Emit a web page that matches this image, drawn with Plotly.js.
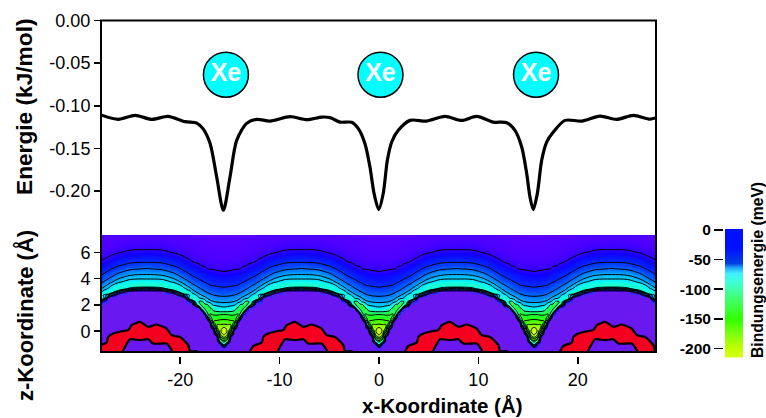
<!DOCTYPE html>
<html><head><meta charset="utf-8">
<script src="https://cdn.plot.ly/plotly-3.0.0.min.js"></script>
<style>html,body{margin:0;padding:0;background:#fff}</style></head>
<body><div id="chart" style="width:766px;height:418px"></div>
<script>
// ---- top panel: adsorption energy along x
const curveX = [-27.97,-26.23,-24.55,-22.87,-21.23,-19.52,-18.34,-17.71,-17.0,-16.33,-15.66,-14.99,-14.32,-13.31,-12.3,-10.97,-8.95,-7.27,-5.76,-4.93,-3.92,-2.75,-2.08,-1.41,-0.91,-0.5,-0.03,0.43,0.84,1.28,1.94,3.12,4.8,6.64,8.32,9.83,11.5,12.85,13.68,14.36,14.86,15.19,15.52,15.93,16.37,16.87,17.54,18.71,20.39,22.23,23.91,25.59,27.26,27.87];
const curveE = [-.1107,-.1159,-.1112,-.1159,-.1124,-.1186,-.1203,-.1268,-.1440,-.1835,-.2225,-.1835,-.1405,-.1206,-.1159,-.1179,-.1128,-.1163,-.1132,-.1139,-.1191,-.1194,-.1268,-.1444,-.1718,-.2026,-.2217,-.2026,-.1639,-.1425,-.1288,-.1171,-.1179,-.1124,-.1171,-.1124,-.1191,-.1198,-.1288,-.1484,-.1795,-.2069,-.2217,-.2029,-.1639,-.1425,-.1308,-.1171,-.1179,-.1121,-.1159,-.1112,-.1156,-.1139];
const xeX = [-15.4, 0.15, 15.8];
const xeY = [-0.0636, -0.0636, -0.0636];
const xeLabels = ['Xe','Xe','Xe'];

// ---- lower panel: binding energy (meV), one unit cell half, read column by column
const period = 15.6;
const cellOffsets = [0,0.35,0.7,1.05,1.4,1.65,1.9,2.2,2.5,3.2,4,5,6.2,7.8];
const heights = [-1.75,-1.5,-1.25,-1,-0.75,-0.5,-0.25,0,0.25,0.5,0.75,1,1.25,1.5,1.75,2,2.25,2.5,2.75,3,3.25,3.5,3.75,4,4.25,4.5,4.75,5,5.25,5.5,5.75,6,6.25,6.5,6.75,7,7.25,7.5];
const col0 = [10,10,0,-60,-120,-170,-205,-214,-203,-178,-160,-142,-127,-98,-53,-45,-38,-33,-28,-24.5,-21,-18.5,-16.4,-14.3,-12.2,-10.1,-9.4,-8.8,-8.2,-7.6,-7,-6.4,-5.8,-5.2,-4.6,-4,-3.4,-3];
const col1 = [10,10,10,0,-70,-135,-180,-198,-196,-176,-159,-141,-126,-98,-55,-45,-38.5,-33,-28.5,-25,-21.5,-18.7,-16.6,-14.5,-12.4,-10.3,-9.5,-8.9,-8.3,-7.7,-7.1,-6.5,-5.9,-5.3,-4.7,-4.1,-3.5,-2.9];
const col2 = [10,10,10,10,10,10,-30,-125,-172,-175,-155,-138,-123,-100,-60,-46,-39,-33.5,-29,-25.5,-22,-19,-16.9,-14.7,-12.6,-10.5,-9.5,-8.9,-8.3,-7.7,-7.1,-6.5,-5.9,-5.3,-4.7,-4.1,-3.5,-2.9];
const col3 = [10,10,10,10,10,10,10,10,-25,-110,-150,-140,-124,-108,-75,-47,-40.5,-34.5,-30,-26,-23,-19.4,-17.3,-15.2,-13,-10.9,-9.7,-9.1,-8.5,-7.9,-7.3,-6.7,-6.1,-5.5,-4.9,-4.3,-3.7,-3.1];
const col4 = [10,10,10,10,10,10,10,10,10,10,-20,-110,-128,-118,-110,-62,-43.6,-36.5,-31.6,-27.4,-23.8,-20.1,-17.9,-15.8,-13.6,-11.5,-9.8,-9.2,-8.6,-8,-7.4,-6.8,-6.2,-5.6,-5,-4.4,-3.8,-3.2];
const col5 = [10,10,10,10,10,10,10,10,10,10,10,-15,-85,-112,-118,-108,-46,-40,-34,-29,-25.2,-21.5,-18.7,-16.5,-14.3,-12.2,-10,-9.4,-8.8,-8.2,-7.6,-7,-6.4,-5.8,-5.2,-4.6,-4,-3.4];
const col6 = [10,10,10,10,10,10,10,10,10,10,10,10,0,-75,-112,-116,-58,-43,-36.7,-30.7,-26.7,-23,-19.6,-17.3,-15.1,-12.9,-10.7,-9.6,-9,-8.4,-7.8,-7.2,-6.6,-6,-5.4,-4.8,-4.2,-3.6];
const col7 = [10,10,10,10,10,10,10,10,10,10,10,10,10,5,-75,-115,-110,-46,-39.5,-33.7,-28.6,-25,-21,-18.2,-16,-13.8,-11.6,-9.8,-9.2,-8.6,-8,-7.4,-6.8,-6.2,-5.6,-5,-4.4,-3.8];
const col8 = [10,10,10,10,10,10,10,10,10,10,10,10,10,10,5,-75,-102,-52,-43,-36,-31,-27,-23,-19.5,-17.3,-15,-12.7,-10.4,-9.5,-8.9,-8.3,-7.7,-7.1,-6.5,-5.9,-5.3,-4.7,-4.1];
const col9 = [10,10,10,10,10,10,10,10,10,10,10,10,10,10,10,10,-5,-92,-60,-45,-38.3,-32.4,-27.4,-23.3,-19.6,-17.3,-15,-12.5,-10.2,-9.4,-8.8,-8.2,-7.6,-7,-6.4,-5.8,-5.2,-4.6];
const col10 = [10,10,10,10,10,10,10,10,10,10,10,10,10,10,10,10,10,10,-30,-88,-52,-42.3,-36,-30,-25.6,-21.2,-18.2,-15.7,-13.3,-10.8,-9.6,-9,-8.4,-7.8,-7.2,-6.6,-6,-5.4];
const col11 = [10,10,10,10,10,10,10,10,10,10,10,10,10,10,10,10,10,10,10,-20,-84,-64,-46.5,-39.8,-33.5,-28.1,-23.5,-19.4,-16.8,-14.2,-11.5,-9.7,-9.1,-8.5,-7.9,-7.3,-6.7,-6.1];
const col12 = [10,10,10,10,10,10,10,10,10,10,10,10,10,10,10,10,10,10,10,10,-40,-82,-60,-46.7,-40,-35,-28,-23.1,-19,-16.3,-13.6,-10.9,-9.6,-9,-8.4,-7.8,-7.2,-6.6];
const col13 = [10,10,10,10,10,10,10,10,10,10,10,10,10,10,10,10,10,10,10,10,-25,-81,-66,-48,-41.5,-35.5,-30.5,-25.5,-19.7,-16.9,-14.2,-11.4,-9.7,-9.1,-8.5,-7.9,-7.3,-6.7];
const cellColumns = [col0,col1,col2,col3,col4,col5,col6,col7,col8,col9,col10,col11,col12,col13];

const thinLevels = {start:-50, end:0, size:10};
const wellLevels = {start:-200, end:-100, size:25};

// repulsive red lobes, outline read for the lobe near x = -8
const lobeOuterX = [-13.1,-12.98,-12.64,-11.8,-11.64,-11.14,-10.29,-9.63,-9.29,-8.45,-7.61,-6.77,-5.76,-5.26,-4.43,-3.59,-3.42,-2.75,-2.6];
const lobeOuterZ = [-1.7,-1.52,-1.12,-0.86,-0.43,-0.18,0,0.08,0.46,0.71,0.33,0.51,0.2,-0.3,-0.43,-1.06,-1.52,-1.52,-1.7];
const lobeInnerX = [-10.3,-10.13,-9.46,-8.45,-7.61,-7.11,-5.76,-5.26,-5.1];
const lobeInnerZ = [-1.7,-1.44,-0.61,-0.68,-0.61,-0.94,-0.94,-1.44,-1.7];
const lobeShifts = [-15.6,0,15.6,31.2];

// colours
const fieldLevels = [-214,-200,-175,-150,-125,-100,-85,-65,-50,-40,-30,-20,-12,-8,-3,3,10];
const fieldColors = ['#e0ff20','#c0ff00','#80ff00','#30ff00','#20ff30','#20ff70','#20ffc0','#10ffe8','#00e8ff','#00b0ff','#0070ff','#0030ff','#1000ff','#4c00ff','#5c00ff','#3030ff','#6a18f0'];
const barValues = [-216,-200,-175,-150,-125,-100,-85,-72,-62,-55,-48,-30,-10,2];
const barLevels = [-216,-200,-175,-150,-125,-100,-85,-72,-62,-55,-48,-30,-10,2];
const barColors = ['#d8ff20','#c0ff00','#80ff10','#30ff00','#40ff50','#40ffa8','#40ffe0','#40f0ff','#20a0ff','#0040e0','#0030e8','#0010ff','#0010ff','#0010ff'];
const barTickVals = [0,-50,-100,-150,-200];
const barTickText = ['0','-50','-100','-150','-200'];
const energyTickVals = [0,-0.05,-0.1,-0.15,-0.2];
const energyTickText = ['0.00','-0.05','-0.10','-0.15','-0.20'];
const heightTicks = [0,2,4,6];
const xTickVals = [-20,-10,0,10,20];
const xTickText = ['-20','-10','0','10','20'];

function scale(levels, colors){
  const a = levels[0], b = levels[levels.length-1];
  return levels.map((v,i)=>[(v-a)/(b-a), colors[i]]);
}
// unit cells repeat along the surface, mirrored about each Xe atom
const mapX = [], mapCols = [];
[-2,-1,0,1,2].forEach(k=>{
  for(let i=cellOffsets.length-1;i>=1;i--){ mapX.push(k*period-cellOffsets[i]); mapCols.push(cellColumns[i]); }
  mapX.push(k*period); mapCols.push(cellColumns[0]);
  if(k===2){ for(let i=1;i<cellOffsets.length;i++){ mapX.push(k*period+cellOffsets[i]); mapCols.push(cellColumns[i]); } }
  else { for(let i=1;i<cellOffsets.length-1;i++){ mapX.push(k*period+cellOffsets[i]); mapCols.push(cellColumns[i]); } }
});
const mapZ = heights.map((_,r)=>mapCols.map(c=>c[r]));

function tile(xs){ const o=[]; lobeShifts.forEach(s=>{ xs.forEach(v=>o.push(v+s)); o.push(null); }); return o; }
function tileZ(zs){ const o=[]; lobeShifts.forEach(()=>{ zs.forEach(v=>o.push(v)); o.push(null); }); return o; }

const fieldScale = scale(fieldLevels, fieldColors);
const contourBase = {type:'contour', x:mapX, y:heights, z:mapZ, xaxis:'x2', yaxis:'y2', showscale:false, hoverinfo:'skip',
  autocontour:false, line:{color:'#000', width:1, smoothing:1}};

const traces = [
  {type:'scatter', mode:'lines', x:curveX, y:curveE, xaxis:'x', yaxis:'y', line:{color:'#000', width:3.2, shape:'spline', smoothing:0.8}, hoverinfo:'skip'},
  {type:'scatter', mode:'markers+text', x:xeX, y:xeY, xaxis:'x', yaxis:'y', text:xeLabels, textposition:'middle center',
    textfont:{family:'Liberation Sans, Arial', size:25, color:'#fff', weight:700},
    marker:{size:45, color:'#00ffff', line:{color:'#000', width:1.5}}, hoverinfo:'skip'},
  {type:'heatmap', x:mapX, y:heights, z:mapZ, xaxis:'x2', yaxis:'y2', zmin:-214, zmax:10, colorscale:fieldScale, zsmooth:'best', showscale:false, hoverinfo:'skip'},
  Object.assign({}, contourBase, {contours:Object.assign({coloring:'none'}, thinLevels)}),
  Object.assign({}, contourBase, {contours:Object.assign({coloring:'none'}, wellLevels)}),
  {type:'scatter', mode:'lines', x:tile(lobeOuterX), y:tileZ(lobeOuterZ), xaxis:'x2', yaxis:'y2', fill:'toself', fillcolor:'#f5001e', line:{color:'#000', width:2.2, shape:'spline', smoothing:0.5}, hoverinfo:'skip'},
  {type:'scatter', mode:'lines', x:tile(lobeInnerX), y:tileZ(lobeInnerZ), xaxis:'x2', yaxis:'y2', fill:'toself', fillcolor:'#6a18f0', line:{color:'#000', width:2.2, shape:'spline', smoothing:0.5}, hoverinfo:'skip'},
  {type:'heatmap', x:[0,1], y:barValues, z:barValues.map(v=>[v,v]), xaxis:'x3', yaxis:'y3', zmin:-216, zmax:2, colorscale:scale(barLevels,barColors), zsmooth:'best', showscale:false, hoverinfo:'skip'}
];

const W=766, H=418;
const px = v=>v/W, py = v=>1-v/H;
const font = {family:'Liberation Sans, Arial, sans-serif', color:'#000'};
const bold = (text,x,y,size,angle)=>({text:'<b>'+text+'</b>', xref:'paper', yref:'paper', x:px(x), y:py(y), xanchor:'center', yanchor:'middle', showarrow:false, textangle:angle, font:Object.assign({}, font, {size:size})});

const layout = {
  width:W, height:H, margin:{l:0,r:0,t:0,b:0}, paper_bgcolor:'#fff', plot_bgcolor:'rgba(0,0,0,0)', showlegend:false,
  font:Object.assign({}, font, {size:18}),
  xaxis:{domain:[px(101),px(656)], range:[-27.97,27.87], visible:false, anchor:'y'},
  yaxis:{domain:[py(235),py(20.5)], range:[-0.2515,0], anchor:'x', tickmode:'array', tickvals:energyTickVals, ticktext:energyTickText, ticks:'outside', ticklen:6, tickwidth:1.5, tickcolor:'#000', showgrid:false, zeroline:false, showline:false, tickfont:{size:18}},
  xaxis2:{domain:[px(101),px(656)], range:[-27.97,27.87], anchor:'free', position:py(356), tickmode:'array', tickvals:xTickVals, ticktext:xTickText, ticks:'outside', ticklen:7, tickwidth:1.5, tickcolor:'#000', showgrid:false, zeroline:false, showline:false, tickfont:{size:18}},
  yaxis2:{domain:[py(352),py(235)], range:[-1.58,7.32], anchor:'x2', tickmode:'array', tickvals:heightTicks, ticktext:heightTicks.map(String), ticks:'outside', ticklen:6, tickwidth:1.5, tickcolor:'#000', showgrid:false, zeroline:false, showline:false, tickfont:{size:18}},
  xaxis3:{domain:[px(725),px(743)], range:[0,1], visible:false, anchor:'y3'},
  yaxis3:{domain:[py(357.5),py(229)], range:[-215.3,1.7], anchor:'free', position:px(723), side:'left', tickmode:'array', tickvals:barTickVals, ticktext:barTickText.map(t=>'<b>'+t+'</b>'), ticks:'outside', ticklen:9, tickwidth:1.5, tickcolor:'#000', showgrid:false, zeroline:false, showline:false, tickfont:{size:15.5}},
  shapes:[{type:'rect', xref:'paper', yref:'paper', x0:px(101), x1:px(656), y0:py(352), y1:py(20.5), line:{color:'#000', width:2}, layer:'above'}],
  annotations:[
    bold('Energie (kJ/mol)',24,107,22.7,-90),
    bold('z-Koordinate (Å)',25,316,22,-90),
    bold('x-Koordinate (Å)',443,405.5,20.5,0),
    bold('Bindungsenergie (meV)',757,270,15.7,-90)
  ]
};
Plotly.newPlot('chart', traces, layout, {staticPlot:true, displayModeBar:false});
</script></body></html>
